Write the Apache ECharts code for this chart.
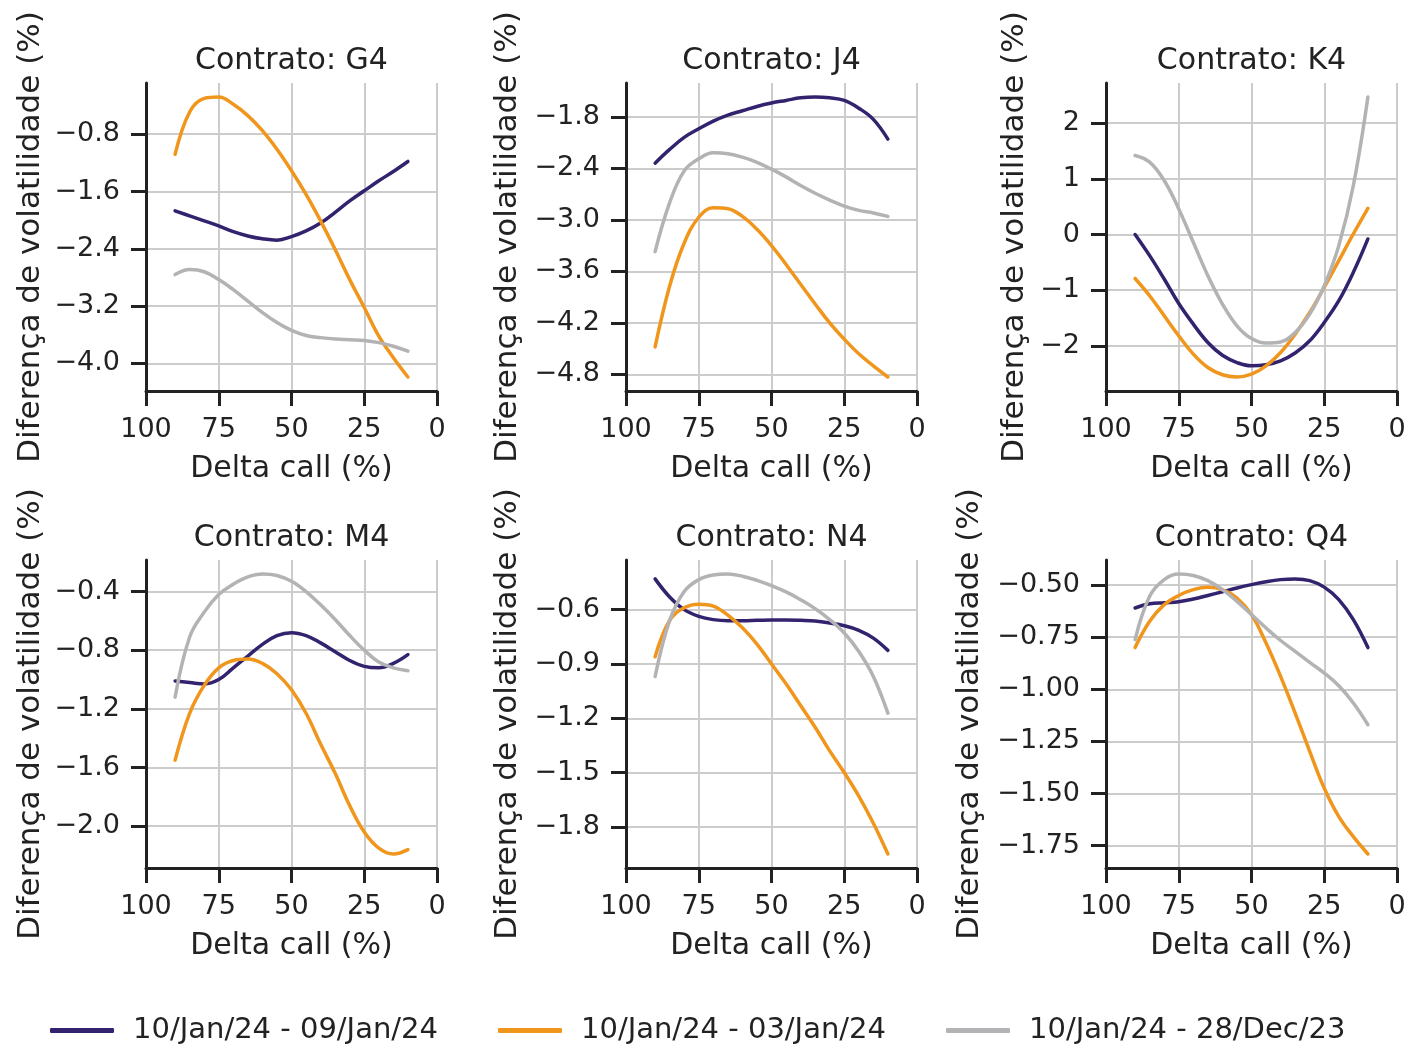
<!DOCTYPE html>
<html>
<head>
<meta charset="utf-8">
<script src="https://cdn.jsdelivr.net/npm/echarts@6/dist/echarts.min.js"></script>
<style>
  html, body { margin: 0; padding: 0; background: #ffffff; }
  #chart { width: 1415px; height: 1057px; }
</style>
</head>
<body>
<div id="chart"></div>
<script>
// ---- data ----
const seriesNames = ['10/Jan/24 - 09/Jan/24', '10/Jan/24 - 03/Jan/24', '10/Jan/24 - 28/Dec/23'];
const contracts = ['G4', 'J4', 'K4', 'M4', 'N4', 'Q4'];
const deltas = [90, 85, 80, 75, 70, 65, 60, 55, 50, 45, 40, 35, 30, 25, 20, 15, 10];
const xTicks = [0, 25, 50, 75, 100];

const g4_d1 = [-1.87, -1.94, -2.01, -2.08, -2.16, -2.22, -2.26, -2.28, -2.23, -2.15, -2.04, -1.89, -1.73, -1.59, -1.45, -1.32, -1.18];
const g4_w1 = [-1.08, -0.49, -0.30, -0.28, -0.38, -0.54, -0.75, -1.01, -1.31, -1.64, -2.01, -2.41, -2.83, -3.22, -3.62, -3.92, -4.19];
const g4_w2 = [-2.76, -2.69, -2.72, -2.83, -2.97, -3.13, -3.29, -3.43, -3.54, -3.61, -3.64, -3.66, -3.67, -3.68, -3.71, -3.76, -3.83];

const j4_d1 = [-2.34, -2.18, -2.04, -1.94, -1.85, -1.78, -1.73, -1.68, -1.64, -1.61, -1.58, -1.57, -1.58, -1.61, -1.70, -1.83, -2.06];
const j4_w1 = [-4.48, -3.77, -3.27, -2.97, -2.86, -2.87, -2.96, -3.11, -3.30, -3.52, -3.75, -3.98, -4.20, -4.39, -4.56, -4.70, -4.83];
const j4_w2 = [-3.37, -2.80, -2.43, -2.29, -2.22, -2.23, -2.27, -2.33, -2.41, -2.50, -2.60, -2.69, -2.77, -2.84, -2.89, -2.92, -2.96];

const k4_d1 = [0.00, -0.38, -0.80, -1.24, -1.61, -1.94, -2.17, -2.30, -2.36, -2.34, -2.27, -2.13, -1.91, -1.58, -1.19, -0.68, -0.08];
const k4_w1 = [-0.79, -1.10, -1.46, -1.82, -2.15, -2.39, -2.52, -2.56, -2.51, -2.36, -2.12, -1.79, -1.40, -0.95, -0.47, 0.01, 0.47];
const k4_w2 = [1.42, 1.30, 0.97, 0.46, -0.14, -0.74, -1.25, -1.64, -1.87, -1.95, -1.93, -1.76, -1.43, -0.92, -0.20, 0.88, 2.47];

const m4_d1 = [-1.01, -1.02, -1.03, -1.00, -0.92, -0.84, -0.76, -0.70, -0.68, -0.70, -0.75, -0.81, -0.87, -0.91, -0.92, -0.89, -0.83];
const m4_w1 = [-1.55, -1.23, -1.04, -0.92, -0.87, -0.86, -0.89, -0.96, -1.07, -1.23, -1.44, -1.64, -1.86, -2.04, -2.15, -2.19, -2.16];
const m4_w2 = [-1.12, -0.71, -0.54, -0.42, -0.35, -0.30, -0.28, -0.29, -0.33, -0.40, -0.49, -0.59, -0.70, -0.80, -0.88, -0.92, -0.94];

const n4_d1 = [-0.43, -0.53, -0.60, -0.637, -0.655, -0.661, -0.661, -0.659, -0.657, -0.657, -0.659, -0.663, -0.674, -0.689, -0.714, -0.757, -0.825];
const n4_w1 = [-0.86, -0.66, -0.59, -0.57, -0.58, -0.63, -0.70, -0.79, -0.90, -1.01, -1.13, -1.25, -1.38, -1.50, -1.63, -1.78, -1.95];
const n4_w2 = [-0.97, -0.66, -0.50, -0.434, -0.408, -0.403, -0.415, -0.438, -0.467, -0.502, -0.545, -0.594, -0.655, -0.729, -0.831, -0.969, -1.172];

const q4_d1 = [-0.61, -0.59, -0.585, -0.58, -0.567, -0.55, -0.532, -0.514, -0.498, -0.484, -0.474, -0.471, -0.479, -0.51, -0.57, -0.666, -0.80];
const q4_w1 = [-0.80, -0.674, -0.594, -0.55, -0.522, -0.511, -0.522, -0.562, -0.642, -0.778, -0.938, -1.114, -1.298, -1.475, -1.611, -1.707, -1.79];
const q4_w2 = [-0.762, -0.554, -0.474, -0.447, -0.454, -0.479, -0.522, -0.578, -0.642, -0.706, -0.766, -0.818, -0.871, -0.922, -0.983, -1.066, -1.17];

const g4_ticks = [-4.0, -3.2, -2.4, -1.6, -0.8];
const j4_ticks = [-4.8, -4.2, -3.6, -3.0, -2.4, -1.8];
const k4_ticks = [-2, -1, 0, 1, 2];
const m4_ticks = [-2.0, -1.6, -1.2, -0.8, -0.4];
const n4_ticks = [-1.8, -1.5, -1.2, -0.9, -0.6];
const q4_ticks = [-1.75, -1.50, -1.25, -1.00, -0.75, -0.50];

const panelSeries = [
  [g4_d1, g4_w1, g4_w2],
  [j4_d1, j4_w1, j4_w2],
  [k4_d1, k4_w1, k4_w2],
  [m4_d1, m4_w1, m4_w2],
  [n4_d1, n4_w1, n4_w2],
  [q4_d1, q4_w1, q4_w2]
];
const panelTicks = [g4_ticks, j4_ticks, k4_ticks, m4_ticks, n4_ticks, q4_ticks];
const panelDecimals = [1, 1, 0, 1, 1, 2];

// ---- layout / style ----
const colors = ['#33236e', '#f0961c', '#b3b3b6'];
const FONT = 'DejaVu Sans';
const TXT = '#222222';
const colLeft = [146, 626, 1106];
const rowTop = [83, 560];
const plotW = 291, plotH = 308;
const yNameGap = [100, 103, 76, 100, 103, 121];

function yLimits(arrs) {
  let lo = Infinity, hi = -Infinity;
  arrs.forEach(a => a.forEach(v => { lo = Math.min(lo, v); hi = Math.max(hi, v); }));
  const pad = (hi - lo) * 0.05;
  return [lo - pad, hi + pad];
}

const grids = [], xAxes = [], yAxes = [], series = [], titles = [];
contracts.forEach((c, i) => {
  const col = i % 3, row = Math.floor(i / 3);
  grids.push({ left: colLeft[col], top: rowTop[row], width: plotW, height: plotH, containLabel: false });
  titles.push({
    text: 'Contrato: ' + c,
    left: colLeft[col] + plotW / 2,
    top: rowTop[row] - 37,
    textAlign: 'center',
    padding: 0,
    textStyle: { fontFamily: FONT, fontSize: 30, fontWeight: 'normal', color: TXT }
  });
  xAxes.push({
    gridIndex: i, type: 'value', inverse: true, min: 0, max: 100, interval: 25,
    name: 'Delta call (%)', nameLocation: 'middle', nameGap: 63,
    nameTextStyle: { fontFamily: FONT, fontSize: 30, color: TXT },
    axisLine: { show: true, onZero: false, lineStyle: { color: TXT, width: 3 } },
    axisTick: { show: true, length: 15, lineStyle: { color: TXT, width: 3 } },
    axisLabel: { fontFamily: FONT, fontSize: 27, color: TXT, margin: 25, customValues: xTicks },
    splitLine: { show: true, lineStyle: { color: '#cccccc', width: 2 } }
  });
  const lim = yLimits(panelSeries[i]);
  const dec = panelDecimals[i];
  yAxes.push({
    gridIndex: i, type: 'value', min: lim[0], max: lim[1],
    name: 'Diferença de volatilidade (%)', nameLocation: 'middle', nameGap: yNameGap[i],
    nameTextStyle: { fontFamily: FONT, fontSize: 31, color: TXT },
    axisLine: { show: true, onZero: false, lineStyle: { color: TXT, width: 3 } },
    axisTick: { show: true, length: 15, lineStyle: { color: TXT, width: 3 }, customValues: panelTicks[i] },
    axisLabel: {
      fontFamily: FONT, fontSize: 27, color: TXT, margin: 26, customValues: panelTicks[i],
      formatter: v => { const s = Math.abs(v).toFixed(dec); return (v < -1e-9 ? '\u2212' : '') + s; }
    },
    splitLine: { show: true, lineStyle: { color: '#cccccc', width: 2 } }
  });
  panelSeries[i].forEach((arr, k) => {
    series.push({
      name: seriesNames[k], type: 'line', xAxisIndex: i, yAxisIndex: i,
      data: deltas.map((d, j) => [d, arr[j]]),
      smooth: 0.4, showSymbol: false, symbol: 'none',
      lineStyle: { color: colors[k], width: 3.5, cap: 'round', join: 'round' }, itemStyle: { color: colors[k] },
      z: 2 + k
    });
  });
});

const chart = echarts.init(document.getElementById('chart'), null, { renderer: 'canvas' });
chart.setOption({
  backgroundColor: '#ffffff',
  animation: false,
  title: titles,
  grid: grids,
  xAxis: xAxes,
  yAxis: yAxes,
  series: series,
  legend: {
    data: seriesNames,
    left: 45, top: 1011,
    itemWidth: 64, itemHeight: 5, itemGap: 60,
    icon: 'roundRect',
    textStyle: { fontFamily: FONT, fontSize: 29, color: TXT, padding: [0, 0, 0, 14] }
  }
});
</script>
</body>
</html>
